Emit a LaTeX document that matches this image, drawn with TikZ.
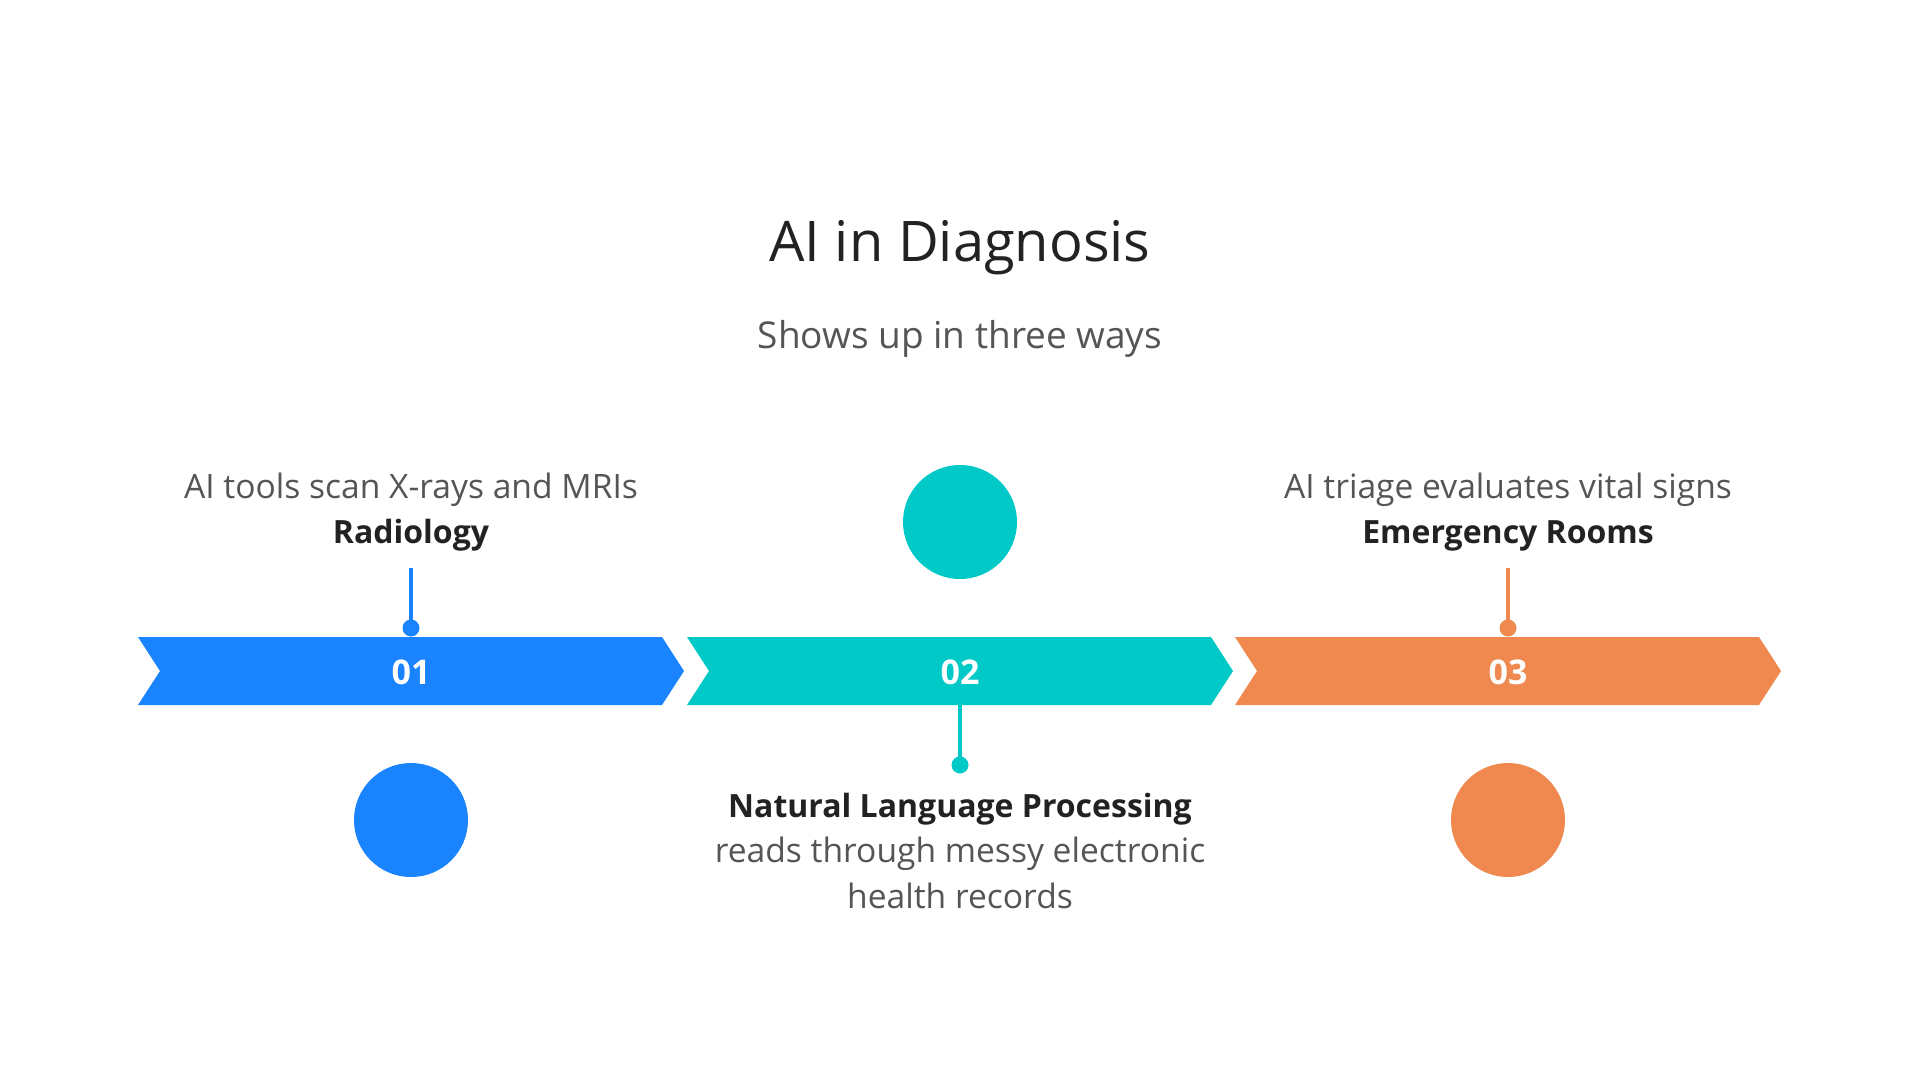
\documentclass[tikz,border=0pt]{standalone}
\usepackage{fontspec}
\setmainfont{Open Sans}
\definecolor{cblue}{RGB}{26,132,255}
\definecolor{cteal}{RGB}{0,201,200}
\definecolor{corange}{RGB}{239,137,79}
\definecolor{cdark}{RGB}{34,34,34}
\definecolor{cgray}{RGB}{85,85,85}
\newcommand\chevshape[2]{%
  \fill[#2] (#1-273,637) -- (#1+251,637) -- (#1+273,671) -- (#1+251,705)
    -- (#1-273,705) -- (#1-251,671) -- cycle;}
\begin{document}
\begin{tikzpicture}[x=1pt,y=-1pt,
  num/.style={text=white,font=\fontsize{34}{40}\selectfont\bfseries,anchor=center},
  dot/.style={circle,inner sep=0pt,minimum size=17pt},
  bigdot/.style={circle,inner sep=0pt,minimum size=114pt},
  stem/.style={line width=4pt},
  body/.style={text=cgray,font=\fontsize{33.6}{38}\selectfont,anchor=base,inner sep=0pt},
  head/.style={text=cdark,font=\fontsize{32}{38}\selectfont\bfseries,anchor=base,inner sep=0pt}]
\useasboundingbox (0,0) rectangle (1920,1080);
\fill[white] (0,0) rectangle (1920,1080);

% title
\node[text=cdark,font=\fontsize{56}{64}\selectfont,anchor=base,inner sep=0pt] (title) at (960,261) {AI in Diagnosis};
\node[text=cgray,font=\fontsize{37}{42}\selectfont,anchor=base,inner sep=0pt] (sub) at (960,348) {Shows up in three ways};

% chevrons
\chevshape{411}{cblue}
\chevshape{960}{cteal}
\chevshape{1508}{corange}
\node[num] (n1) at (411,672) {01};
\node[num] (n2) at (960,672) {02};
\node[num] (n3) at (1508,672) {03};

% big circles
\node[bigdot,fill=cteal] (c2) at (960,522) {};
\node[bigdot,fill=cblue] (c1) at (411,820) {};
\node[bigdot,fill=corange] (c3) at (1508,820) {};

% stems
\coordinate (s1) at (411,568);
\coordinate (s3) at (1508,568);
\coordinate (s2) at (960,705);
\node[dot,fill=cblue] (d1) at (411,628) {};
\node[dot,fill=corange] (d3) at (1508,628) {};
\node[dot,fill=cteal] (d2) at (960,765) {};
\draw[stem,cblue] (s1) -- (d1.center);
\draw[stem,corange] (s3) -- (d3.center);
\draw[stem,cteal] (s2) -- (d2.center);

% texts
\node[body] (t1a) at (411,498) {AI tools scan X-rays and MRIs};
\node[head] (t1b) at (411,543) {Radiology};
\node[body] (t3a) at (1508,498) {AI triage evaluates vital signs};
\node[head] (t3b) at (1508,543) {Emergency Rooms};
\node[head] (t2a) at (960,817) {Natural Language Processing};
\node[body] (t2b) at (960,862) {reads through messy electronic};
\node[body] (t2c) at (960,908) {health records};
\end{tikzpicture}
\end{document}
